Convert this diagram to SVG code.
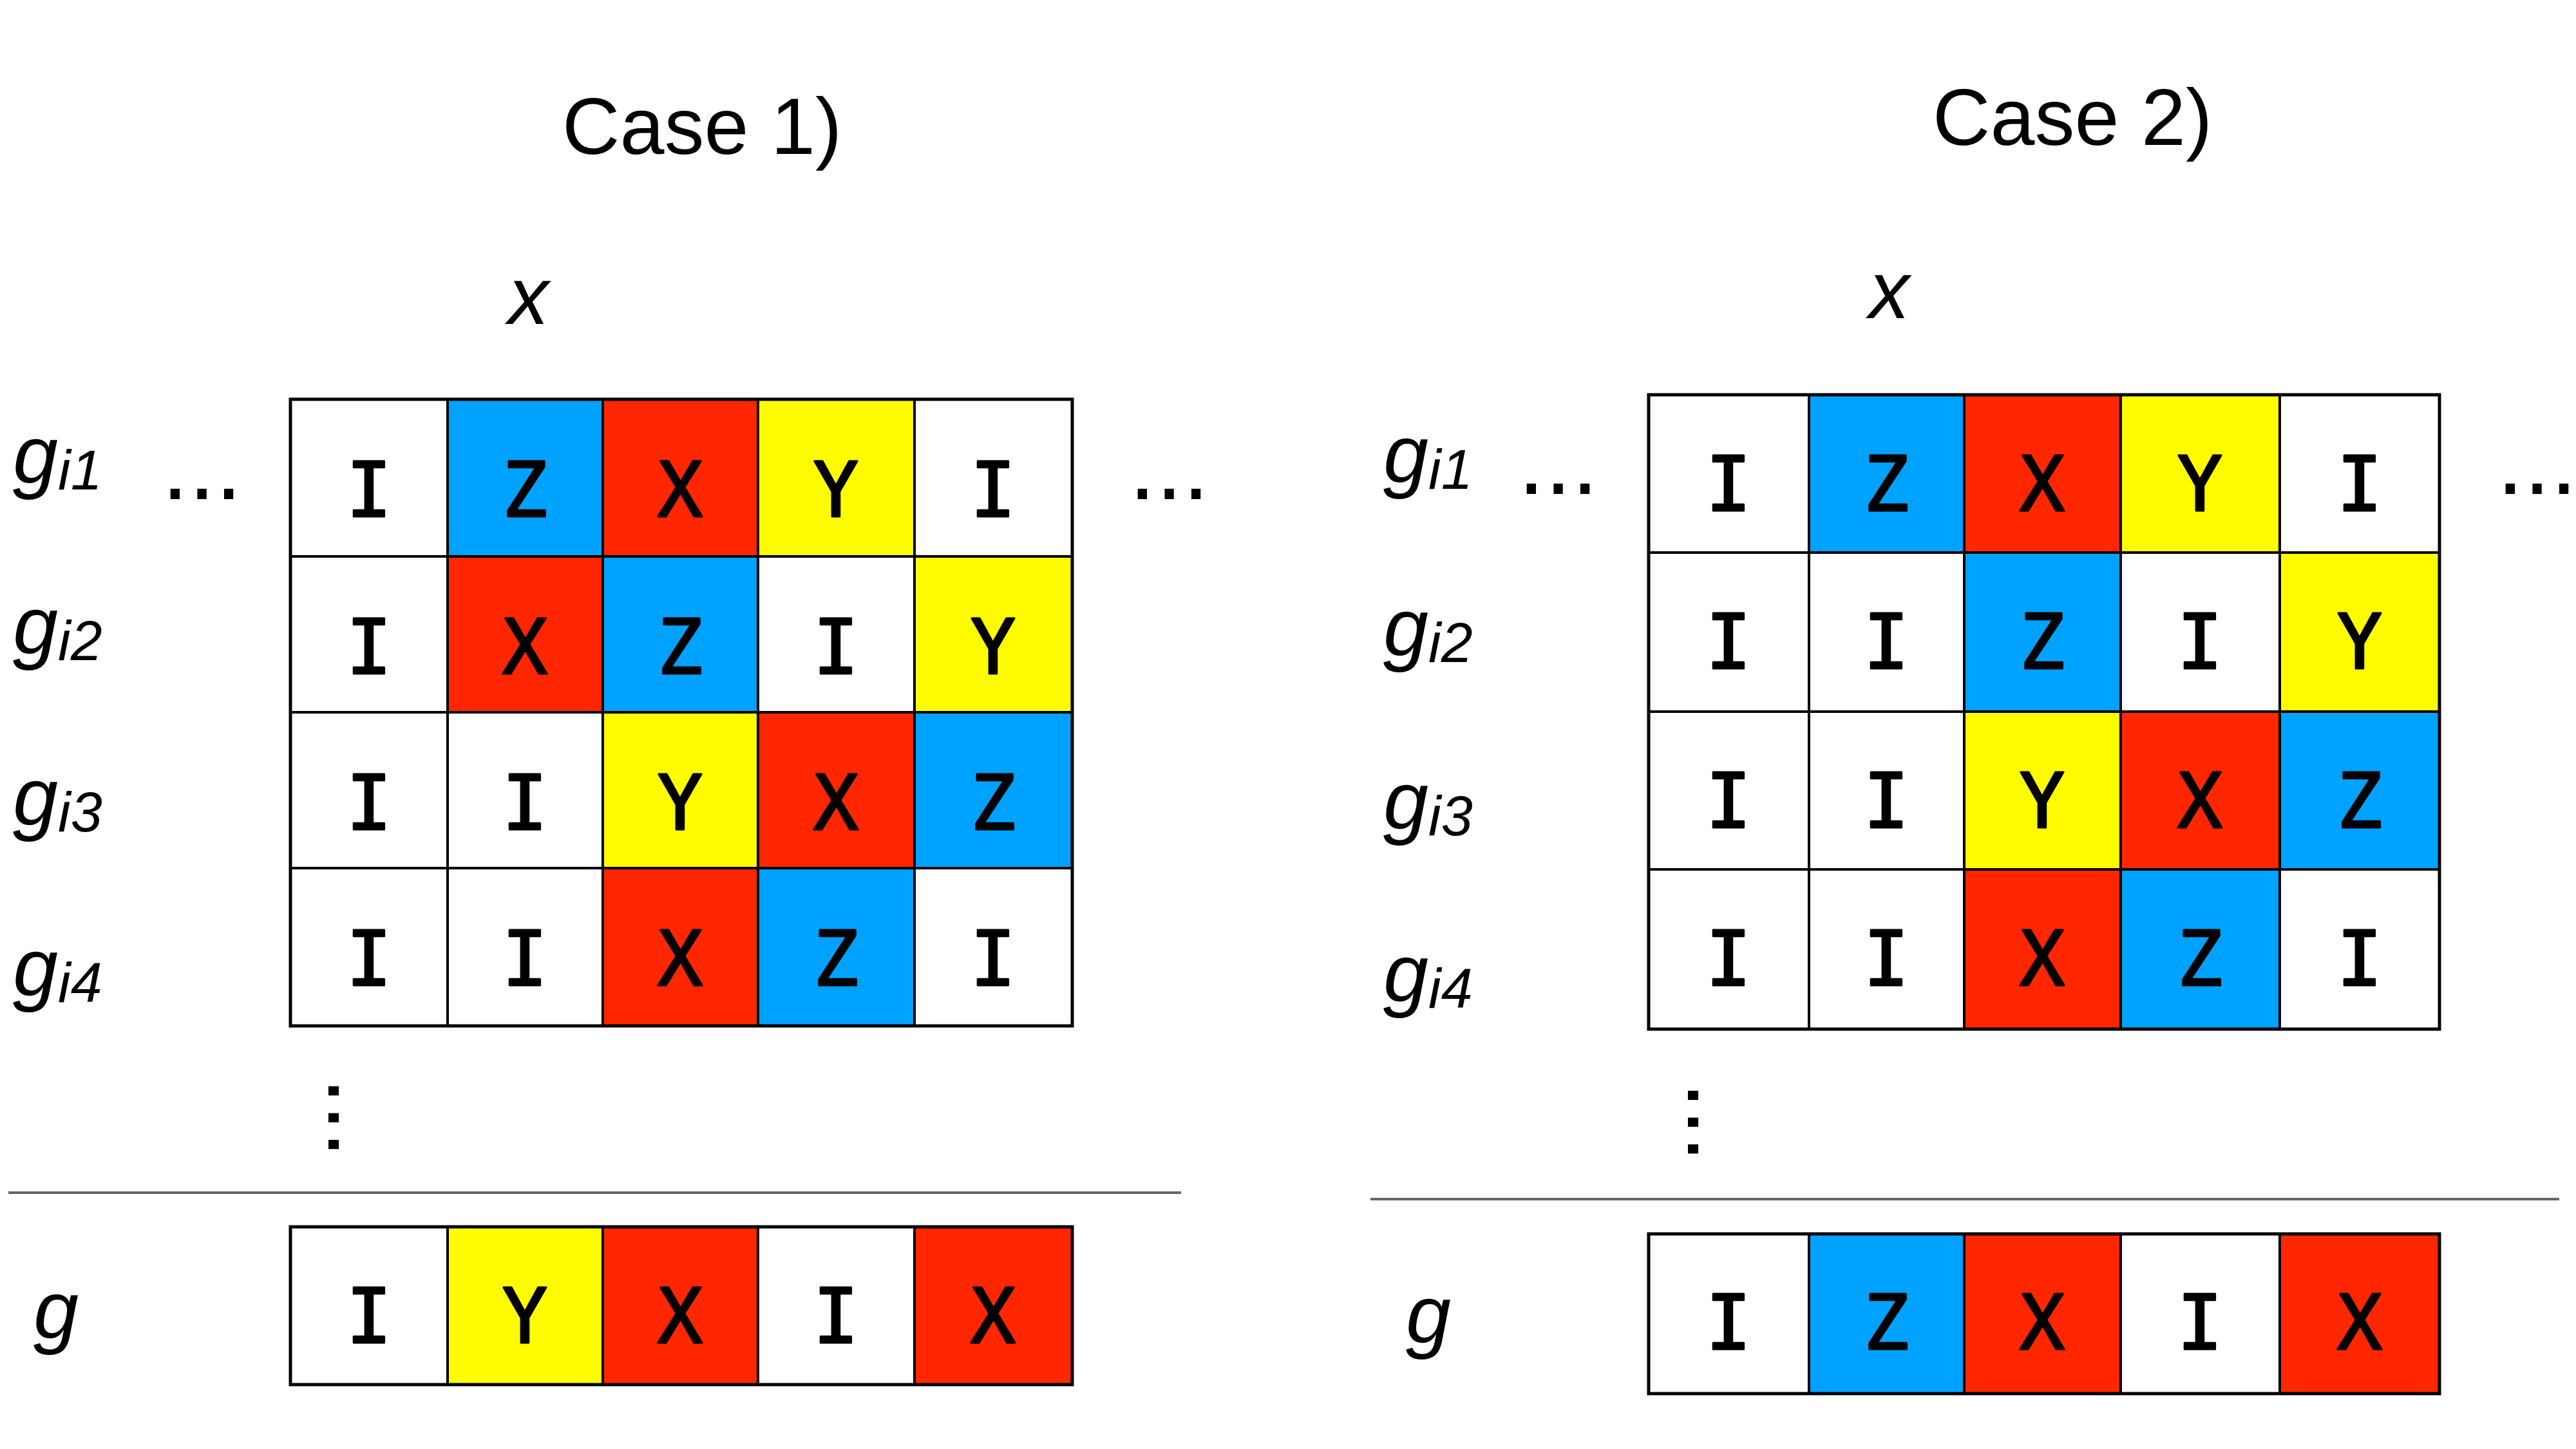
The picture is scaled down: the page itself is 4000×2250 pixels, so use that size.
<svg xmlns="http://www.w3.org/2000/svg" width="4000" height="2250" viewBox="0 0 4000 2250">
  <style>
    .cell { stroke: #000; stroke-width: 4; }
    .w { fill: #ffffff; }
    .b { fill: #00a2ff; }
    .r { fill: #ff2600; }
    .y { fill: #fffb00; }
    .frame { fill: none; stroke: #000; stroke-width: 5; }
    .op { font-family: "DejaVu Sans Mono", "Liberation Mono", monospace; font-size: 117px; text-anchor: middle; fill: #000; stroke: #000; stroke-width: 3; stroke-linejoin: round; }
    .lbl { font-family: "Liberation Sans", Arial, sans-serif; font-style: italic; font-size: 126px; fill: #000; }
    .sub { font-size: 88px; }
    .title { font-family: "Liberation Sans", Arial, sans-serif; font-size: 124px; fill: #000; }
    .dots { font-family: "Liberation Sans", Arial, sans-serif; font-size: 150px; fill: #000; }
    .sep { stroke: #666; stroke-width: 4; fill: none; }
  </style>
  <rect width="4000" height="2250" fill="#fff"/>

  <!-- ===== Case 1 ===== -->
  <g id="case1-labels">
    <text class="title" x="873" y="239">Case 1)</text>
    <text class="lbl" x="789" y="503" font-size="120">x</text>
    <text class="lbl" x="20" y="750">g<tspan class="sub" dy="10">i1</tspan></text>
    <text class="lbl" x="20" y="1015">g<tspan class="sub" dy="10">i2</tspan></text>
    <text class="lbl" x="20" y="1281">g<tspan class="sub" dy="10">i3</tspan></text>
    <text class="lbl" x="20" y="1546">g<tspan class="sub" dy="10">i4</tspan></text>
    <text class="lbl" x="52" y="2078">g</text>
    <text class="dots" x="251" y="775">...</text>
    <text class="dots" x="1753" y="775">...</text>
    <text class="dots" transform="translate(510,1673) rotate(90)" x="0" y="0">...</text>
  </g>

  <!-- row gi1 -->
  <g id="c1-r1">
    <g id="c1-r1-1"><rect class="cell w" x="451" y="620" width="244" height="244"/><text class="op" x="573" y="802">I</text></g>
    <g id="c1-r1-2"><rect class="cell b" x="695" y="620" width="241" height="244"/><text class="op" x="815" y="802">Z</text></g>
    <g id="c1-r1-3"><rect class="cell r" x="936" y="620" width="241" height="244"/><text class="op" x="1056" y="802">X</text></g>
    <g id="c1-r1-4"><rect class="cell y" x="1177" y="620" width="243" height="244"/><text class="op" x="1298" y="802">Y</text></g>
    <g id="c1-r1-5"><rect class="cell w" x="1420" y="620" width="245" height="244"/><text class="op" x="1542" y="802">I</text></g>
  </g>
  <!-- row gi2 -->
  <g id="c1-r2">
    <g id="c1-r2-1"><rect class="cell w" x="451" y="864" width="244" height="242"/><text class="op" x="573" y="1046">I</text></g>
    <g id="c1-r2-2"><rect class="cell r" x="695" y="864" width="241" height="242"/><text class="op" x="815" y="1046">X</text></g>
    <g id="c1-r2-3"><rect class="cell b" x="936" y="864" width="241" height="242"/><text class="op" x="1056" y="1046">Z</text></g>
    <g id="c1-r2-4"><rect class="cell w" x="1177" y="864" width="243" height="242"/><text class="op" x="1298" y="1046">I</text></g>
    <g id="c1-r2-5"><rect class="cell y" x="1420" y="864" width="245" height="242"/><text class="op" x="1542" y="1046">Y</text></g>
  </g>
  <!-- row gi3 -->
  <g id="c1-r3">
    <g id="c1-r3-1"><rect class="cell w" x="451" y="1106" width="244" height="242"/><text class="op" x="573" y="1288">I</text></g>
    <g id="c1-r3-2"><rect class="cell w" x="695" y="1106" width="241" height="242"/><text class="op" x="815" y="1288">I</text></g>
    <g id="c1-r3-3"><rect class="cell y" x="936" y="1106" width="241" height="242"/><text class="op" x="1056" y="1288">Y</text></g>
    <g id="c1-r3-4"><rect class="cell r" x="1177" y="1106" width="243" height="242"/><text class="op" x="1298" y="1288">X</text></g>
    <g id="c1-r3-5"><rect class="cell b" x="1420" y="1106" width="245" height="242"/><text class="op" x="1542" y="1288">Z</text></g>
  </g>
  <!-- row gi4 -->
  <g id="c1-r4">
    <g id="c1-r4-1"><rect class="cell w" x="451" y="1348" width="244" height="245"/><text class="op" x="573" y="1530">I</text></g>
    <g id="c1-r4-2"><rect class="cell w" x="695" y="1348" width="241" height="245"/><text class="op" x="815" y="1530">I</text></g>
    <g id="c1-r4-3"><rect class="cell r" x="936" y="1348" width="241" height="245"/><text class="op" x="1056" y="1530">X</text></g>
    <g id="c1-r4-4"><rect class="cell b" x="1177" y="1348" width="243" height="245"/><text class="op" x="1298" y="1530">Z</text></g>
    <g id="c1-r4-5"><rect class="cell w" x="1420" y="1348" width="245" height="245"/><text class="op" x="1542" y="1530">I</text></g>
  </g>
  <rect class="frame" x="451" y="620" width="1214" height="973"/>

  <line class="sep" x1="13" y1="1852" x2="1834" y2="1852"/>

  <!-- product g -->
  <g id="c1-g">
    <g id="c1-g-1"><rect class="cell w" x="451" y="1905" width="244" height="245"/><text class="op" x="573" y="2085">I</text></g>
    <g id="c1-g-2"><rect class="cell y" x="695" y="1905" width="241" height="245"/><text class="op" x="815" y="2085">Y</text></g>
    <g id="c1-g-3"><rect class="cell r" x="936" y="1905" width="241" height="245"/><text class="op" x="1056" y="2085">X</text></g>
    <g id="c1-g-4"><rect class="cell w" x="1177" y="1905" width="243" height="245"/><text class="op" x="1298" y="2085">I</text></g>
    <g id="c1-g-5"><rect class="cell r" x="1420" y="1905" width="245" height="245"/><text class="op" x="1542" y="2085">X</text></g>
    <rect class="frame" x="451" y="1905" width="1214" height="245"/>
  </g>

  <!-- ===== Case 2 ===== -->
  <g id="case2-labels">
    <text class="title" x="3001" y="225">Case 2)</text>
    <text class="lbl" x="2902" y="494" font-size="120">x</text>
    <text class="lbl" x="2148" y="749">g<tspan class="sub" dy="10">i1</tspan></text>
    <text class="lbl" x="2148" y="1018">g<tspan class="sub" dy="10">i2</tspan></text>
    <text class="lbl" x="2148" y="1287">g<tspan class="sub" dy="10">i3</tspan></text>
    <text class="lbl" x="2148" y="1555">g<tspan class="sub" dy="10">i4</tspan></text>
    <text class="lbl" x="2183" y="2085">g</text>
    <text class="dots" x="2357" y="767">...</text>
    <text class="dots" x="3877" y="767">...</text>
    <text class="dots" transform="translate(2621,1680) rotate(90)" x="0" y="0">...</text>
  </g>

  <!-- row gi1 -->
  <g id="c2-r1">
    <g id="c2-r1-1"><rect class="cell w" x="2560" y="613" width="249" height="245"/><text class="op" x="2684" y="793">I</text></g>
    <g id="c2-r1-2"><rect class="cell b" x="2809" y="613" width="241" height="245"/><text class="op" x="2929" y="793">Z</text></g>
    <g id="c2-r1-3"><rect class="cell r" x="3050" y="613" width="243" height="245"/><text class="op" x="3171" y="793">X</text></g>
    <g id="c2-r1-4"><rect class="cell y" x="3293" y="613" width="247" height="245"/><text class="op" x="3416" y="793">Y</text></g>
    <g id="c2-r1-5"><rect class="cell w" x="3540" y="613" width="248" height="245"/><text class="op" x="3664" y="793">I</text></g>
  </g>
  <!-- row gi2 -->
  <g id="c2-r2">
    <g id="c2-r2-1"><rect class="cell w" x="2560" y="858" width="249" height="247"/><text class="op" x="2684" y="1038">I</text></g>
    <g id="c2-r2-2"><rect class="cell w" x="2809" y="858" width="241" height="247"/><text class="op" x="2929" y="1038">I</text></g>
    <g id="c2-r2-3"><rect class="cell b" x="3050" y="858" width="243" height="247"/><text class="op" x="3171" y="1038">Z</text></g>
    <g id="c2-r2-4"><rect class="cell w" x="3293" y="858" width="247" height="247"/><text class="op" x="3416" y="1038">I</text></g>
    <g id="c2-r2-5"><rect class="cell y" x="3540" y="858" width="248" height="247"/><text class="op" x="3664" y="1038">Y</text></g>
  </g>
  <!-- row gi3 -->
  <g id="c2-r3">
    <g id="c2-r3-1"><rect class="cell w" x="2560" y="1105" width="249" height="245"/><text class="op" x="2684" y="1285">I</text></g>
    <g id="c2-r3-2"><rect class="cell w" x="2809" y="1105" width="241" height="245"/><text class="op" x="2929" y="1285">I</text></g>
    <g id="c2-r3-3"><rect class="cell y" x="3050" y="1105" width="243" height="245"/><text class="op" x="3171" y="1285">Y</text></g>
    <g id="c2-r3-4"><rect class="cell r" x="3293" y="1105" width="247" height="245"/><text class="op" x="3416" y="1285">X</text></g>
    <g id="c2-r3-5"><rect class="cell b" x="3540" y="1105" width="248" height="245"/><text class="op" x="3664" y="1285">Z</text></g>
  </g>
  <!-- row gi4 -->
  <g id="c2-r4">
    <g id="c2-r4-1"><rect class="cell w" x="2560" y="1350" width="249" height="248"/><text class="op" x="2684" y="1530">I</text></g>
    <g id="c2-r4-2"><rect class="cell w" x="2809" y="1350" width="241" height="248"/><text class="op" x="2929" y="1530">I</text></g>
    <g id="c2-r4-3"><rect class="cell r" x="3050" y="1350" width="243" height="248"/><text class="op" x="3171" y="1530">X</text></g>
    <g id="c2-r4-4"><rect class="cell b" x="3293" y="1350" width="247" height="248"/><text class="op" x="3416" y="1530">Z</text></g>
    <g id="c2-r4-5"><rect class="cell w" x="3540" y="1350" width="248" height="248"/><text class="op" x="3664" y="1530">I</text></g>
  </g>
  <rect class="frame" x="2560" y="613" width="1228" height="985"/>

  <line class="sep" x1="2128" y1="1862" x2="3974" y2="1862"/>

  <!-- product g -->
  <g id="c2-g">
    <g id="c2-g-1"><rect class="cell w" x="2560" y="1916" width="249" height="248"/><text class="op" x="2684" y="2095">I</text></g>
    <g id="c2-g-2"><rect class="cell b" x="2809" y="1916" width="241" height="248"/><text class="op" x="2929" y="2095">Z</text></g>
    <g id="c2-g-3"><rect class="cell r" x="3050" y="1916" width="243" height="248"/><text class="op" x="3171" y="2095">X</text></g>
    <g id="c2-g-4"><rect class="cell w" x="3293" y="1916" width="247" height="248"/><text class="op" x="3416" y="2095">I</text></g>
    <g id="c2-g-5"><rect class="cell r" x="3540" y="1916" width="248" height="248"/><text class="op" x="3664" y="2095">X</text></g>
    <rect class="frame" x="2560" y="1916" width="1228" height="248"/>
  </g>

  <!-- no connectors in this figure -->
  <g id="connectors"/>
</svg>
